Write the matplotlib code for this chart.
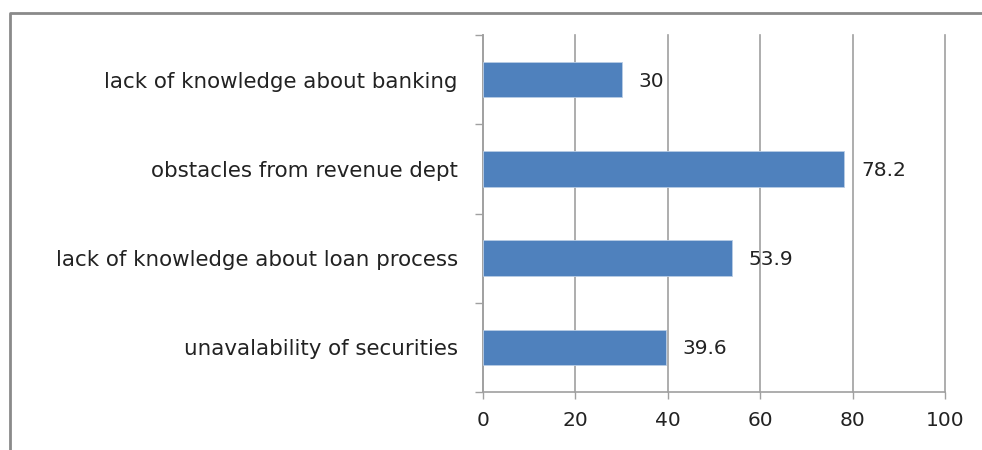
import matplotlib
matplotlib.use('Agg')
import matplotlib.pyplot as plt
from matplotlib.lines import Line2D

categories = ['unavalability of securities',
              'lack of knowledge about loan process',
              'obstacles from revenue dept',
              'lack of knowledge about banking']
values = [39.6, 53.9, 78.2, 30]
x_ticks = [0, 20, 40, 60, 80, 100]

plt.rcParams['font.family'] = ['DejaVu Sans']

fig = plt.figure(figsize=(9.82, 4.5), dpi=100)
ax = fig.add_axes([483/982, 58/450, 462/982, 357/450])

grid_col = '#a0a0a0'
bars = ax.barh(range(len(categories)), values, height=0.4, color='#4f81bd',
               edgecolor='#b9cde5', linewidth=0.6, zorder=3)

for b, v in zip(bars, values):
    ax.annotate(str(v), (b.get_width(), b.get_y() + b.get_height() / 2),
                xytext=(12, -1), textcoords='offset points', va='center',
                ha='left', fontsize=14.5, color='#222222', zorder=4)

ax.set_xlim(0, 100)
ax.set_ylim(-0.5, len(categories) - 0.5)
ax.set_xticks(x_ticks)
ax.set_xticklabels([str(t) for t in x_ticks])
ax.set_yticks(range(len(categories)))
ax.set_yticklabels(categories)
ax.set_yticks([i - 0.5 for i in range(len(categories) + 1)], minor=True)

ax.grid(axis='x', color=grid_col, linewidth=1.2, zorder=0)
for gl in ax.get_xgridlines():
    gl.set_clip_on(False)
ax.tick_params(axis='y', which='major', length=0, pad=18, labelsize=15.4,
               labelcolor='#222222')
ax.tick_params(axis='y', which='minor', length=6, width=1, color=grid_col)
ax.tick_params(axis='x', length=5, width=1, color=grid_col, pad=9,
               labelsize=14.5, labelcolor='#222222')

for s in ['top', 'right']:
    ax.spines[s].set_visible(False)
for s in ['left', 'bottom']:
    ax.spines[s].set_color(grid_col)
    ax.spines[s].set_linewidth(1.2)

# outer chart border (only left and top visible in the crop)
fig.add_artist(Line2D([10/982, 10/982, 1], [0, 1 - 13/450, 1 - 13/450],
                      transform=fig.transFigure, color='#8a8a8a', linewidth=2))

fig.savefig('out.png', dpi=100, facecolor='white')
